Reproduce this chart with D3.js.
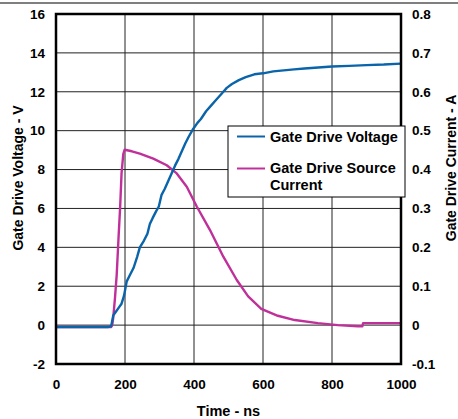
<!DOCTYPE html>
<html>
<head>
<meta charset="utf-8">
<script src="https://cdn.jsdelivr.net/npm/d3@7"></script>
<style>
  html, body { margin: 0; padding: 0; background: #fff; }
  svg { display: block; font-family: "Liberation Sans", Arial, sans-serif; font-weight: bold; }
</style>
</head>
<body>
<svg id="chart" width="458" height="419"></svg>
<script>
// ---- data ----
const xTicks = [0, 200, 400, 600, 800, 1000];
const yLeftTicks = [-2, 0, 2, 4, 6, 8, 10, 12, 14, 16];
const yRightTicks = [-0.1, 0, 0.1, 0.2, 0.3, 0.4, 0.5, 0.6, 0.7, 0.8];

const voltageTime = [0, 150, 160, 166, 172, 182, 190, 197, 205, 215, 225, 235, 243, 255, 265, 272, 280, 290, 298, 306, 315, 325, 335, 345, 355, 365, 375, 385, 398, 410, 420, 435, 450, 465, 480, 495, 510, 530, 550, 575, 600, 630, 660, 690, 720, 760, 800, 850, 900, 950, 1000];
const voltageValues = [-0.1, -0.1, -0.05, 0.5, 0.65, 0.9, 1.1, 1.5, 2.25, 2.6, 2.95, 3.5, 4.0, 4.35, 4.7, 5.2, 5.5, 5.85, 6.1, 6.7, 7.0, 7.4, 7.8, 8.2, 8.55, 8.95, 9.35, 9.7, 10.1, 10.4, 10.6, 11.0, 11.3, 11.6, 11.9, 12.2, 12.4, 12.6, 12.75, 12.9, 12.95, 13.05, 13.1, 13.15, 13.2, 13.25, 13.3, 13.33, 13.37, 13.4, 13.45];

const currentTime = [0, 160, 163, 166, 171, 176, 181, 186, 190, 195, 199, 220, 243, 282, 321, 350, 379, 408, 446, 485, 524, 557, 595, 643, 692, 759, 817, 875, 888, 890, 1000];
const currentValues = [-0.005, -0.005, 0.0, 0.02, 0.07, 0.13, 0.22, 0.305, 0.39, 0.44, 0.451, 0.447, 0.441, 0.428, 0.411, 0.39, 0.356, 0.305, 0.245, 0.176, 0.116, 0.074, 0.042, 0.024, 0.013, 0.005, 0.0, -0.003, -0.003, 0.005, 0.005];

const seriesNames = ["Gate Drive Voltage", "Gate Drive Source", "Current"];
const colors = { voltage: "#0a64aa", current: "#c0309a" };

// ---- layout ----
const svg = d3.select("#chart");
const plot = { left: 56, right: 401, top: 14, bottom: 364 };

const x = d3.scaleLinear().domain([0, 1000]).range([plot.left, plot.right]);
const yL = d3.scaleLinear().domain([-2, 16]).range([plot.bottom, plot.top]);
const yR = d3.scaleLinear().domain([-0.1, 0.8]).range([plot.bottom, plot.top]);

// top frame line
svg.append("line").attr("x1", 0).attr("x2", 458).attr("y1", 3).attr("y2", 3)
  .attr("stroke", "#000").attr("stroke-width", 1.2);

// gridlines
svg.append("g").selectAll("line").data(xTicks.slice(1, -1)).join("line")
  .attr("x1", d => x(d)).attr("x2", d => x(d))
  .attr("y1", plot.top).attr("y2", plot.bottom)
  .attr("stroke", "#222").attr("stroke-width", 1);
svg.append("g").selectAll("line").data(yLeftTicks.slice(1, -1)).join("line")
  .attr("x1", plot.left).attr("x2", plot.right)
  .attr("y1", d => yL(d)).attr("y2", d => yL(d))
  .attr("stroke", "#222").attr("stroke-width", 1);

// axes (labels only, via d3 axes)
const fs = "13.5px";
const gL = svg.append("g").attr("transform", `translate(${plot.left - 11},0)`)
  .call(d3.axisLeft(yL).tickValues(yLeftTicks).tickSize(0).tickPadding(0).tickFormat(d3.format("d")));
const gR = svg.append("g").attr("transform", `translate(${plot.right + 11},0)`)
  .call(d3.axisRight(yR).tickValues(yRightTicks).tickSize(0).tickPadding(0).tickFormat(d3.format(".1~f")));
const gB = svg.append("g").attr("transform", `translate(0,${plot.bottom + 15})`)
  .call(d3.axisBottom(x).tickValues(xTicks).tickSize(0).tickPadding(0).tickFormat(d3.format("d")));
[gL, gR, gB].forEach(g => {
  g.select(".domain").remove();
  g.selectAll("text").attr("font-size", fs).attr("font-weight", "bold")
    .attr("font-family", "Liberation Sans, Arial, sans-serif").attr("fill", "#000");
});
gR.selectAll("text").text(d => d === 0 ? "0" : d3.format(".1f")(d).replace("−", "-"));
gL.selectAll("text").text(d => String(d));

// curves
const clip = svg.append("clipPath").attr("id", "clip").append("rect")
  .attr("x", plot.left).attr("y", plot.top - 2).attr("width", plot.right - plot.left + 2).attr("height", plot.bottom - plot.top + 4);

const vLine = d3.line().x((d, i) => x(voltageTime[i])).y(d => yL(d));
const iLine = d3.line().x((d, i) => x(currentTime[i])).y(d => yR(d));

svg.append("path").datum(currentValues).attr("d", iLine)
  .attr("fill", "none").attr("stroke", colors.current).attr("stroke-width", 2.4)
  .attr("stroke-linejoin", "round");
svg.append("path").datum(voltageValues).attr("d", vLine)
  .attr("fill", "none").attr("stroke", colors.voltage).attr("stroke-width", 2.4)
  .attr("stroke-linejoin", "round");

// plot border
svg.append("rect").attr("x", plot.left).attr("y", plot.top)
  .attr("width", plot.right - plot.left).attr("height", plot.bottom - plot.top)
  .attr("fill", "none").attr("stroke", "#000").attr("stroke-width", 2.5);

// legend
const lg = svg.append("g");
lg.append("rect").attr("x", 228).attr("y", 126).attr("width", 177).attr("height", 71)
  .attr("fill", "#fff").attr("stroke", "#000").attr("stroke-width", 1);
lg.append("line").attr("x1", 237).attr("x2", 265).attr("y1", 136.5).attr("y2", 136.5)
  .attr("stroke", colors.voltage).attr("stroke-width", 2);
lg.append("line").attr("x1", 237).attr("x2", 265).attr("y1", 168.5).attr("y2", 168.5)
  .attr("stroke", colors.current).attr("stroke-width", 2);
const lt = [[seriesNames[0], 141.5], [seriesNames[1], 173], [seriesNames[2], 190]];
lg.selectAll("text").data(lt).join("text")
  .attr("x", 270).attr("y", d => d[1]).text(d => d[0])
  .attr("font-size", "14.5px").attr("fill", "#000");

// axis titles
svg.append("text").attr("x", 228.5).attr("y", 416).attr("text-anchor", "middle")
  .attr("font-size", "14.5px").text("Time - ns");
svg.append("text").attr("transform", "translate(23,178) rotate(-90)").attr("text-anchor", "middle")
  .attr("font-size", "14px").text("Gate Drive Voltage - V");
svg.append("text").attr("transform", "translate(456,168) rotate(-90)").attr("text-anchor", "middle")
  .attr("font-size", "14px").text("Gate Drive Current - A");
</script>
</body>
</html>
